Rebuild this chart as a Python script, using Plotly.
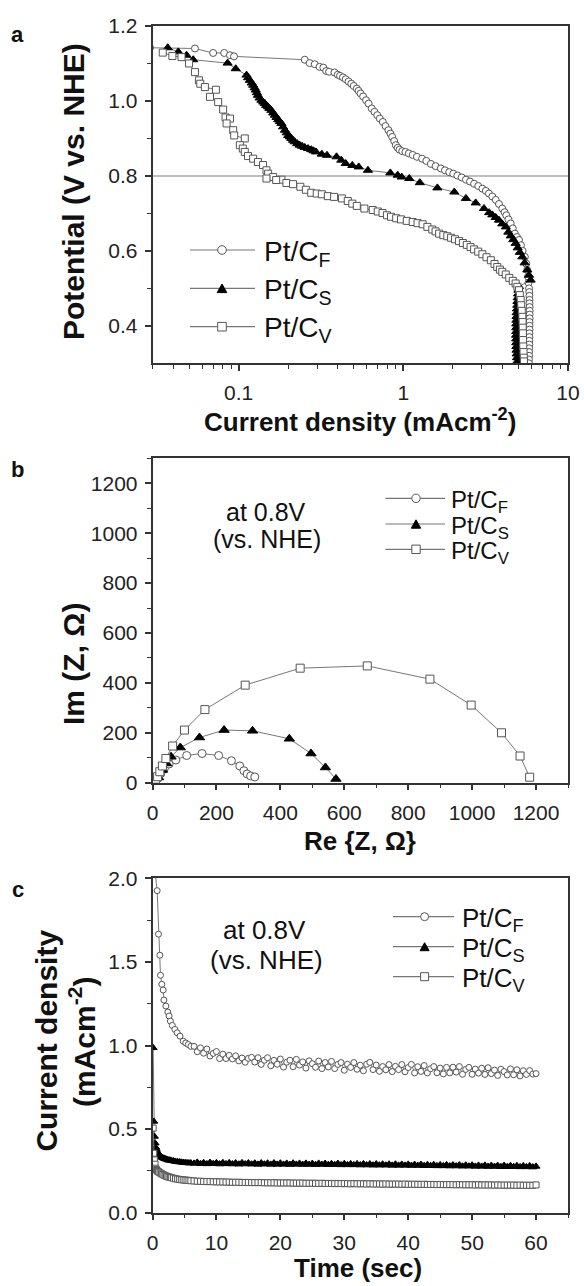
import plotly.graph_objects as go

W, H = 584, 1286
FONT = "Liberation Sans, Arial, sans-serif"

names = ["Pt/C<sub>F</sub>", "Pt/C<sub>S</sub>", "Pt/C<sub>V</sub>"]

# ---------------- panel a : polarization curves (current mA/cm2, potential V) -------------
pt_cf_lsv = [
    (0.029, 1.142), (0.0543, 1.140), (0.070, 1.128), (0.0817, 1.128), (0.0886, 1.122), (0.0937, 1.119),
    (0.252, 1.110), (0.270, 1.101), (0.290, 1.098), (0.310, 1.091), (0.327, 1.089), (0.340, 1.080),
    (0.354, 1.078), (0.382, 1.076), (0.400, 1.070), (0.413, 1.067), (0.430, 1.063), (0.447, 1.058),
    (0.465, 1.052), (0.483, 1.046), (0.500, 1.040), (0.522, 1.033), (0.535, 1.027), (0.550, 1.020),
    (0.570, 1.012), (0.594, 1.002), (0.615, 0.993), (0.643, 0.980), (0.668, 0.971), (0.695, 0.962),
    (0.720, 0.953), (0.751, 0.944), (0.780, 0.933), (0.812, 0.922), (0.835, 0.913), (0.856, 0.904),
    (0.880, 0.893), (0.901, 0.882), (0.925, 0.875), (0.949, 0.870), (0.985, 0.866), (1.03, 0.864),
    (1.08, 0.860), (1.14, 0.856), (1.21, 0.851), (1.30, 0.846), (1.38, 0.840), (1.47, 0.832),
    (1.57, 0.826), (1.69, 0.820), (1.79, 0.815), (1.90, 0.810), (2.01, 0.806), (2.13, 0.801),
    (2.26, 0.796), (2.40, 0.790), (2.54, 0.785), (2.69, 0.779), (2.85, 0.773), (3.02, 0.766),
    (3.17, 0.760), (3.31, 0.753), (3.47, 0.745), (3.64, 0.736), (3.81, 0.725), (3.99, 0.713),
    (4.12, 0.703), (4.22, 0.695), (4.35, 0.684), (4.49, 0.673), (4.62, 0.660), (4.76, 0.646),
    (4.90, 0.637), (5.04, 0.629), (5.18, 0.615), (5.30, 0.600), (5.47, 0.584), (5.58, 0.566),
    (5.66, 0.549), (5.72, 0.531), (5.76, 0.515), (5.80, 0.500), (5.82, 0.490), (5.83, 0.480),
    (5.84, 0.469), (5.84, 0.460), (5.85, 0.450), (5.85, 0.440), (5.85, 0.430), (5.85, 0.420),
    (5.84, 0.410), (5.84, 0.400), (5.84, 0.390), (5.83, 0.380), (5.83, 0.370), (5.82, 0.360),
    (5.82, 0.350), (5.81, 0.340), (5.80, 0.330), (5.80, 0.320), (5.79, 0.310), (5.79, 0.300),
]

pt_cs_lsv = [
    (0.0371, 1.142), (0.043, 1.131), (0.0483, 1.122), (0.053, 1.110),
    (0.0857, 1.101), (0.096, 1.086), (0.1117, 1.069), (0.114, 1.062), (0.117, 1.055), (0.120, 1.048),
    (0.1225, 1.042), (0.125, 1.035), (0.127, 1.029), (0.129, 1.022), (0.131, 1.015), (0.134, 1.008),
    (0.1375, 1.002), (0.141, 0.997), (0.1443, 0.993), (0.147, 0.988), (0.151, 0.984), (0.154, 0.980),
    (0.158, 0.975), (0.162, 0.968), (0.166, 0.962), (0.170, 0.956), (0.174, 0.950), (0.178, 0.945),
    (0.182, 0.940), (0.186, 0.931), (0.191, 0.922), (0.196, 0.915), (0.200, 0.908), (0.205, 0.904),
    (0.209, 0.900), (0.214, 0.895), (0.219, 0.891), (0.227, 0.886), (0.235, 0.882), (0.243, 0.879),
    (0.252, 0.876), (0.264, 0.873), (0.276, 0.870), (0.285, 0.867), (0.295, 0.864), (0.320, 0.858),
    (0.344, 0.855), (0.393, 0.851), (0.420, 0.842), (0.447, 0.833), (0.490, 0.828), (0.536, 0.824),
    (0.610, 0.815),
    (0.834, 0.808), (0.924, 0.802), (0.977, 0.797), (1.087, 0.793), (1.26, 0.782), (1.61, 0.768),
    (2.04, 0.757), (2.40, 0.740), (2.75, 0.728), (3.09, 0.713), (3.32, 0.702), (3.47, 0.696),
    (3.64, 0.689), (3.81, 0.682), (3.99, 0.672), (4.19, 0.664), (4.34, 0.650), (4.49, 0.640),
    (4.65, 0.630), (4.81, 0.620), (4.95, 0.608), (5.10, 0.596), (5.28, 0.584), (5.45, 0.568),
    (5.66, 0.549), (5.80, 0.535), (5.93, 0.522),
    (5.04, 0.505), (5.00, 0.495), (4.97, 0.485), (4.95, 0.475), (4.93, 0.465), (4.92, 0.455),
    (4.90, 0.445), (4.88, 0.435), (4.87, 0.425), (4.86, 0.415), (4.85, 0.405), (4.85, 0.395),
    (4.85, 0.385), (4.84, 0.375), (4.85, 0.365), (4.85, 0.355), (4.86, 0.345), (4.87, 0.335),
    (4.88, 0.325), (4.90, 0.315), (4.92, 0.305),
]

pt_cv_lsv = [
    (0.0346, 1.129), (0.0396, 1.120), (0.045, 1.117), (0.050, 1.100), (0.0543, 1.077), (0.0574, 1.055),
    (0.0585, 1.046), (0.0624, 1.037), (0.0728, 1.030), (0.067, 1.011), (0.0751, 0.997), (0.0805, 0.977),
    (0.0833, 0.956), (0.0886, 0.953), (0.0845, 0.940), (0.0927, 0.922), (0.094, 0.908), (0.109, 0.900),
    (0.1017, 0.882), (0.106, 0.873), (0.109, 0.864), (0.114, 0.853), (0.1225, 0.846), (0.131, 0.837),
    (0.1407, 0.829), (0.1476, 0.815), (0.151, 0.806), (0.162, 0.797), (0.1476, 0.793), (0.182, 0.790),
    (0.169, 0.789), (0.195, 0.781), (0.214, 0.778), (0.237, 0.771), (0.256, 0.763), (0.276, 0.755),
    (0.298, 0.753), (0.320, 0.751), (0.348, 0.746), (0.380, 0.744), (0.424, 0.740), (0.460, 0.733),
    (0.490, 0.726), (0.522, 0.720), (0.580, 0.713), (0.652, 0.709), (0.700, 0.705), (0.748, 0.701),
    (0.795, 0.695), (0.842, 0.691), (0.905, 0.687), (0.968, 0.684), (1.05, 0.680), (1.14, 0.677),
    (1.22, 0.674), (1.31, 0.671), (1.40, 0.664), (1.50, 0.657), (1.57, 0.652), (1.65, 0.646),
    (1.75, 0.642), (1.85, 0.639), (1.95, 0.635), (2.06, 0.631), (2.18, 0.626), (2.30, 0.621),
    (2.43, 0.616), (2.56, 0.610), (2.69, 0.604), (2.85, 0.598), (3.02, 0.591), (3.20, 0.583),
    (3.40, 0.575), (3.58, 0.565), (3.72, 0.557), (3.86, 0.550), (3.99, 0.544), (4.19, 0.537),
    (4.40, 0.528), (4.62, 0.520), (4.81, 0.513), (4.93, 0.504), (5.04, 0.495), (5.10, 0.482),
    (5.16, 0.469), (5.20, 0.455), (5.24, 0.440), (5.28, 0.424), (5.30, 0.410), (5.31, 0.395),
    (5.32, 0.380), (5.33, 0.362), (5.35, 0.345), (5.37, 0.330), (5.39, 0.315), (5.40, 0.305),
]

# ---------------- panel b : Nyquist plots (Re Z, -Im Z) in ohm ----------------
eis_cf = [(8, 3), (16, 17), (26, 37), (37, 57), (52, 75), (73, 91), (107, 109), (155, 117), (207, 109),
          (247, 88), (273, 67), (286, 48), (296, 35), (307, 27), (320, 23)]
eis_cs = [(8, 4), (19, 21), (31, 51), (44, 77), (58, 104), (87, 141), (147, 181), (224, 211), (313, 208),
          (428, 176), (496, 117), (541, 61), (574, 15)]
eis_cv = [(10, 11), (16, 24), (23, 44), (31, 67), (42, 97), (63, 147), (100, 211), (164, 293), (290, 391),
          (462, 459), (672, 468), (868, 415), (997, 311), (1092, 200), (1150, 107), (1180, 22)]

# ---------------- panel c : chronoamperometry (time s, current mA/cm2) ----------------
t_late = [6.5, 7.0, 7.5, 8.0, 8.5, 9.0, 9.5, 10.0, 10.5, 11.0,
          11.5, 12.0, 12.5, 13.0, 13.5, 14.0, 14.5, 15.0, 15.5, 16.0,
          16.5, 17.0, 17.5, 18.0, 18.5, 19.0, 19.5, 20.0, 20.5, 21.0,
          21.5, 22.0, 22.5, 23.0, 23.5, 24.0, 24.5, 25.0, 25.5, 26.0,
          26.5, 27.0, 27.5, 28.0, 28.5, 29.0, 29.5, 30.0, 30.5, 31.0,
          31.5, 32.0, 32.5, 33.0, 33.5, 34.0, 34.5, 35.0, 35.5, 36.0,
          36.5, 37.0, 37.5, 38.0, 38.5, 39.0, 39.5, 40.0, 40.5, 41.0,
          41.5, 42.0, 42.5, 43.0, 43.5, 44.0, 44.5, 45.0, 45.5, 46.0,
          46.5, 47.0, 47.5, 48.0, 48.5, 49.0, 49.5, 50.0, 50.5, 51.0,
          51.5, 52.0, 52.5, 53.0, 53.5, 54.0, 54.5, 55.0, 55.5, 56.0,
          56.5, 57.0, 57.5, 58.0, 58.5, 59.0, 59.5, 60.0]

t_cf_early = [0.15, 0.45, 0.73, 0.94, 1.15, 1.25, 1.46, 1.67, 1.78, 2.09, 2.4, 2.6, 2.8, 3.1, 3.5,
              3.86, 4.3, 4.8, 5.2, 5.6, 6.0]
j_cf_early = [3.2, 2.02, 1.926, 1.666, 1.54, 1.42, 1.366, 1.332, 1.272, 1.236, 1.20, 1.176, 1.146, 1.12,
              1.096, 1.076, 1.056, 1.026, 1.015, 1.006, 0.995]
j_cf_late = [0.995, 0.963, 0.986, 0.954, 0.979, 0.937, 0.953, 0.964, 0.922, 0.948,
             0.922, 0.941, 0.920, 0.938, 0.908, 0.925, 0.900, 0.923, 0.929, 0.901,
             0.927, 0.887, 0.912, 0.927, 0.879, 0.911, 0.888, 0.919, 0.871, 0.900,
             0.912, 0.873, 0.917, 0.883, 0.902, 0.865, 0.908, 0.891, 0.870, 0.907,
             0.862, 0.898, 0.872, 0.905, 0.862, 0.887, 0.898, 0.852, 0.888, 0.869,
             0.898, 0.858, 0.882, 0.849, 0.888, 0.899, 0.856, 0.883, 0.846, 0.874,
             0.855, 0.886, 0.844, 0.875, 0.856, 0.886, 0.843, 0.868, 0.887, 0.836,
             0.873, 0.845, 0.880, 0.836, 0.861, 0.874, 0.837, 0.865, 0.830, 0.869,
             0.836, 0.870, 0.841, 0.874, 0.828, 0.857, 0.869, 0.828, 0.859, 0.835,
             0.864, 0.827, 0.867, 0.832, 0.853, 0.821, 0.858, 0.844, 0.824, 0.860,
             0.825, 0.855, 0.818, 0.849, 0.827, 0.850, 0.829, 0.832]

t_sv_early = [0.1, 0.2, 0.3, 0.4, 0.5, 0.6, 0.7, 0.8, 0.9, 1.0, 1.2, 1.4, 1.6, 1.8, 2.0, 2.2, 2.4, 2.6,
              2.8, 3.0, 3.3, 3.6, 3.9, 4.2, 4.5, 4.8, 5.1, 5.4, 5.7, 6.0]
j_cs_early = [0.986, 0.546, 0.456, 0.416, 0.390, 0.378, 0.366, 0.358, 0.352, 0.346, 0.340, 0.334, 0.328,
              0.325, 0.322, 0.319, 0.316, 0.314, 0.313, 0.311, 0.309, 0.306, 0.305, 0.303, 0.302, 0.300,
              0.299, 0.298, 0.297, 0.297]
j_cs_late = [0.295, 0.301, 0.293, 0.299, 0.292, 0.300, 0.293, 0.298, 0.291, 0.299,
             0.292, 0.298, 0.291, 0.297, 0.290, 0.298, 0.291, 0.297, 0.290, 0.296,
             0.289, 0.297, 0.290, 0.296, 0.289, 0.297, 0.289, 0.296, 0.289, 0.295,
             0.288, 0.296, 0.289, 0.295, 0.288, 0.295, 0.288, 0.294, 0.287, 0.295,
             0.288, 0.294, 0.287, 0.293, 0.287, 0.294, 0.286, 0.293, 0.286, 0.292,
             0.286, 0.292, 0.285, 0.292, 0.285, 0.291, 0.284, 0.291, 0.284, 0.290,
             0.284, 0.290, 0.283, 0.290, 0.283, 0.289, 0.283, 0.289, 0.282, 0.288,
             0.282, 0.288, 0.281, 0.287, 0.281, 0.287, 0.280, 0.286, 0.280, 0.286,
             0.279, 0.285, 0.279, 0.285, 0.278, 0.284, 0.278, 0.284, 0.277, 0.283,
             0.277, 0.283, 0.276, 0.282, 0.276, 0.282, 0.275, 0.282, 0.275, 0.281,
             0.275, 0.281, 0.274, 0.280, 0.274, 0.280, 0.273, 0.277]
j_cv_early = [0.506, 0.356, 0.316, 0.290, 0.266, 0.258, 0.252, 0.248, 0.245, 0.243, 0.238, 0.233, 0.229,
              0.225, 0.221, 0.218, 0.215, 0.213, 0.211, 0.209, 0.206, 0.203, 0.201, 0.199, 0.197, 0.196,
              0.195, 0.194, 0.193, 0.191]
j_cv_late = [0.190, 0.188, 0.188, 0.187, 0.186, 0.186, 0.185, 0.185, 0.184, 0.184,
             0.183, 0.183, 0.182, 0.182, 0.182, 0.181, 0.181, 0.181, 0.180, 0.180,
             0.180, 0.180, 0.179, 0.179, 0.179, 0.179, 0.178, 0.178, 0.178, 0.178,
             0.178, 0.177, 0.177, 0.177, 0.177, 0.176, 0.176, 0.176, 0.176, 0.175,
             0.176, 0.175, 0.175, 0.175, 0.174, 0.175, 0.174, 0.174, 0.174, 0.173,
             0.174, 0.173, 0.173, 0.173, 0.172, 0.173, 0.172, 0.172, 0.172, 0.171,
             0.172, 0.171, 0.171, 0.171, 0.171, 0.170, 0.171, 0.170, 0.170, 0.170,
             0.170, 0.169, 0.170, 0.169, 0.169, 0.169, 0.168, 0.169, 0.168, 0.168,
             0.168, 0.168, 0.167, 0.168, 0.167, 0.167, 0.167, 0.167, 0.166, 0.167,
             0.166, 0.166, 0.166, 0.166, 0.165, 0.166, 0.165, 0.165, 0.165, 0.165,
             0.165, 0.164, 0.165, 0.164, 0.164, 0.164, 0.164, 0.166]

# tick positions
a_x_ticks = [0.1, 1, 10]
a_x_minor = [0.03, 0.04, 0.05, 0.06, 0.07, 0.08, 0.09, 0.2, 0.3, 0.4, 0.5, 0.6, 0.7, 0.8, 0.9,
             2, 3, 4, 5, 6, 7, 8, 9]
a_y_ticks = [0.4, 0.6, 0.8, 1.0, 1.2]
a_y_minor = [0.5, 0.7, 0.9, 1.1]

# ---------------- styling ----------------
LINE_C = "#777777"
EDGE_C = "#555555"
AX_C = "#333333"
styles = [
    dict(symbol="circle", color="white", line=dict(color=EDGE_C, width=1)),
    dict(symbol="triangle-up", color="black", line=dict(color="black", width=1)),
    dict(symbol="square", color="white", line=dict(color=EDGE_C, width=1)),
]


def px(x):
    return x / W


def py(y):
    return 1 - y / H


fig = go.Figure()


def add_series(xs, ys, k, size, xa, ya):
    st = styles[k]
    fig.add_trace(go.Scatter(
        x=list(xs), y=list(ys), mode="lines+markers", name=names[k], showlegend=False,
        line=dict(color=LINE_C, width=1),
        marker=dict(symbol=st["symbol"], color=st["color"], line=st["line"], size=size),
        xaxis=xa, yaxis=ya,
    ))


for k, ser in enumerate([pt_cf_lsv, pt_cs_lsv, pt_cv_lsv]):
    xs, ys = zip(*ser)
    add_series(xs, ys, k, [7, 8, 7][k], "x", "y")

for k, ser in enumerate([eis_cf, eis_cs, eis_cv]):
    xs, ys = zip(*ser)
    add_series(xs, ys, k, [8, 9, 8][k], "x2", "y2")

add_series(t_cf_early + t_late, j_cf_early + j_cf_late, 0, 6, "x3", "y3")
add_series(t_sv_early + t_late, j_cs_early + j_cs_late, 1, 7, "x3", "y3")
add_series(t_sv_early + t_late, j_cv_early + j_cv_late, 2, 6, "x3", "y3")

XDOM = [px(152.5), px(568)]
common = dict(showline=True, mirror=True, linecolor=AX_C, linewidth=1.5, showgrid=False,
              zeroline=False, ticks="outside", ticklen=6, tickwidth=1.5, tickcolor=AX_C,
              tickfont=dict(family=FONT, size=21, color="#222222"), automargin=False)
minor_style = dict(ticks="outside", ticklen=3.5, tickwidth=1.2, tickcolor=AX_C)

fig.update_layout(
    width=W, height=H, margin=dict(l=0, r=0, t=0, b=0),
    paper_bgcolor="white", plot_bgcolor="white", showlegend=False,
    font=dict(family=FONT, color="#111111"),
    xaxis=dict(common, domain=XDOM, anchor="y", type="log", range=[-1.523, 1.0],
               tickmode="array", tickvals=a_x_ticks, ticktext=["0.1", "1", "10"],
               minor=dict(minor_style, tickmode="array", tickvals=a_x_minor), ticklabelstandoff=4),
    yaxis=dict(common, domain=[py(363.3), py(26)], anchor="x", range=[0.3, 1.2],
               tickmode="array", tickvals=a_y_ticks, ticktext=["0.4", "0.6", "0.8", "1.0", "1.2"],
               minor=dict(minor_style, tickmode="array", tickvals=a_y_minor), ticklabelstandoff=3),
    xaxis2=dict(common, domain=XDOM, anchor="y2", range=[0, 1300], tick0=0, dtick=200,
                tickformat="d", minor=dict(minor_style, dtick=100), ticklabelstandoff=4),
    yaxis2=dict(common, domain=[py(782.7), py(458.3)], anchor="x2", range=[0, 1300], tick0=0,
                dtick=200, tickformat="d", minor=dict(minor_style, dtick=100), ticklabelstandoff=3),
    xaxis3=dict(common, domain=XDOM, anchor="y3", range=[0, 65], tick0=0, dtick=10,
                tickformat="d", minor=dict(minor_style, dtick=5), ticklabelstandoff=4),
    yaxis3=dict(common, domain=[py(1212.7), py(878.3)], anchor="x3", range=[0, 2.0], tick0=0,
                dtick=0.5, tickformat=".1f", minor=dict(minor_style, dtick=0.25), ticklabelstandoff=3),
)

shapes = [dict(type="line", xref="x domain", yref="y", x0=0, x1=1, y0=0.8, y1=0.8,
               line=dict(color="#a8a8a8", width=1.5), layer="below")]
annotations = []


def text(x, y, s, size, bold=False, angle=0, xanchor="center", yanchor="middle", yshift=0):
    annotations.append(dict(
        x=px(x), y=py(y), xref="paper", yref="paper", text=("<b>%s</b>" % s) if bold else s,
        showarrow=False, xanchor=xanchor, yanchor=yanchor, textangle=angle, yshift=yshift,
        font=dict(family=FONT, size=size, color="#111111"), borderpad=0))


def legend_block(rows, x0, x1, xm, xt, fsize, r):
    for k, ry in enumerate(rows):
        shapes.append(dict(type="line", xref="paper", yref="paper", x0=px(x0), x1=px(x1),
                           y0=py(ry), y1=py(ry), line=dict(color=LINE_C, width=1.2)))
        base = dict(xref="paper", yref="paper", xsizemode="pixel", ysizemode="pixel",
                    xanchor=px(xm), yanchor=py(ry))
        if k == 0:
            shapes.append(dict(base, type="circle", x0=-r, x1=r, y0=-r, y1=r,
                               fillcolor="white", line=dict(color=EDGE_C, width=1)))
        elif k == 1:
            shapes.append(dict(base, type="path",
                               path="M%.1f,%.1f L%.1f,%.1f L0,%.1f Z" % (-r - 0.5, -r, r + 0.5, -r, r),
                               fillcolor="black", line=dict(color="black", width=1)))
        else:
            shapes.append(dict(base, type="rect", x0=-r, x1=r, y0=-r, y1=r,
                               fillcolor="white", line=dict(color=EDGE_C, width=1)))
        text(xt, ry, names[k], fsize, xanchor="left", yshift=-3)


legend_block([250, 288.3, 326.7], 190, 255, 222, 263, 28, 4.3)
legend_block([498.3, 524, 549.3], 385.5, 445, 416, 450, 24, 4.2)
legend_block([916.7, 946.7, 976.7], 393, 454, 424.6, 461, 26, 4.0)

# panel labels
text(17.7, 34, "a", 22, bold=True)
text(17.7, 470, "b", 22, bold=True)
text(17.7, 889, "c", 22, bold=True)

# axis titles
text(360, 420, "Current density (mAcm<sup>-2</sup>)", 26, bold=True)
text(73, 192, "Potential (V vs. NHE)", 30, bold=True, angle=-90)
text(360, 841, "Re {Z, \u03a9}", 26, bold=True)
text(73, 664, "Im (Z, \u03a9)", 30, bold=True, angle=-90)
text(358, 1268, "Time (sec)", 26, bold=True)
text(45.6, 1041, "Current density", 30, bold=True, angle=-90)
text(82, 1042, "(mAcm<sup>-2</sup>)", 30, bold=True, angle=-90)

# in-plot notes
text(266, 512, "at 0.8V", 25)
text(267, 539, "(vs. NHE)", 25)
text(264, 930, "at 0.8V", 26)
text(266, 960, "(vs. NHE)", 26)

fig.update_layout(shapes=shapes, annotations=annotations)
fig.write_html("out.html", config={"displayModeBar": False},
               post_script="document.body.style.margin='0px';")
